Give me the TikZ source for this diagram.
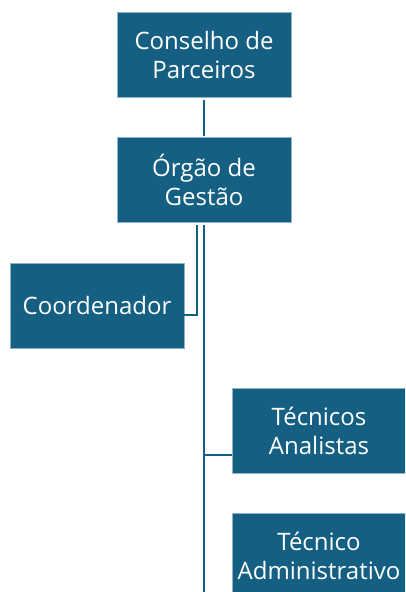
\documentclass[tikz,border=0pt]{standalone}
\usepackage{fontspec}
\setmainfont{Open Sans}
\definecolor{teal1}{HTML}{156082}
\definecolor{edge1}{HTML}{8FB4C8}
\tikzset{
  box/.style={rectangle, fill=teal1, draw=edge1, line width=0.6pt, minimum width=174pt, minimum height=85pt,
    text=white, align=center, inner sep=2pt, font=\fontsize{24}{29}\selectfont},
  link/.style={draw=teal1, line width=2pt}
}
\begin{document}
\begin{tikzpicture}[x=1pt,y=-1pt]
\useasboundingbox (0,0) rectangle (405,592);
\clip (0,0) rectangle (405,592);
\node[box] (cons) at (204,54.5) {Conselho de\\Parceiros};
\node[box] (org) at (204,179.5) {Órgão de\\Gestão};
\node[box] (coord) at (97,305.5) {Coordenador};
\node[box] (tec) at (319,430.5) {Técnicos\\Analistas};
\node[box] (adm) at (319,555.5) {Técnico\\Administrativo};
\coordinate (k1) at (197,315);
\coordinate (k2) at (204,455);
\coordinate (bot) at (204,600);
\draw[link] ([yshift=-3pt]cons.south) -- ([yshift=1pt]org.north);
\draw[link] ([xshift=-7pt,yshift=-3pt]org.south) |- (k1 -| coord.east);
\draw[link] ([yshift=-3pt]org.south) -- (bot);
\draw[link] (k2) -- (k2 -| tec.west);
\end{tikzpicture}
\end{document}
